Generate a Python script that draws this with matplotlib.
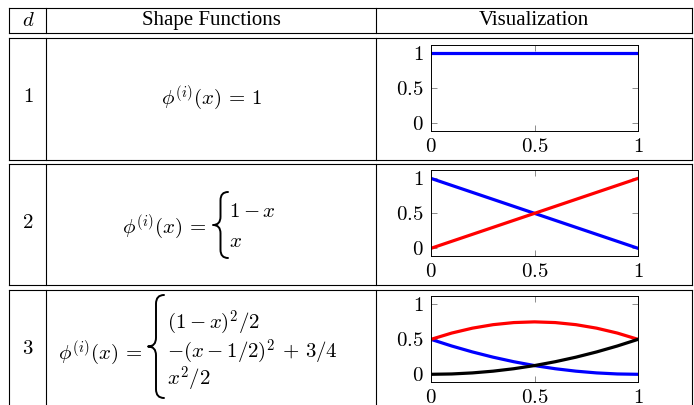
import numpy as np
import matplotlib
matplotlib.use('Agg')
import matplotlib.pyplot as plt
from matplotlib.path import Path
import matplotlib.patches as patches

plt.rcParams['mathtext.fontset'] = 'cm'
plt.rcParams['font.family'] = ['Liberation Serif', 'DejaVu Serif']

W, H = 694, 405  # figure size in pixels

## table text
header = ['$d$', 'Shape Functions', 'Visualization']
degrees = ['$1$', '$2$', '$3$']
lhs = r'$\phi^{(i)}(x)\,=\,$'
row1_formula = r'$\phi^{(i)}(x)\,=\,1$'
row2_cases = [r'$1-x$', r'$x$']
row3_cases = [r'$(1-x)^2/2$', r'$-(x-1/2)^2\,+\,3/4$', r'$x^2/2$']

## plotted shape functions
x_lin = [0.0, 1.0]
d1_phi = [1.0, 1.0]
d2_blue = [1.0, 0.0]
d2_red = [0.0, 1.0]
x_quad = [0.0, 0.1, 0.2, 0.3, 0.4, 0.5, 0.6, 0.7, 0.8, 0.9, 1.0]
d3_blue = [0.5, 0.405, 0.32, 0.245, 0.18, 0.125, 0.08, 0.045, 0.02, 0.005, 0.0]
d3_red = [0.5, 0.59, 0.66, 0.71, 0.74, 0.75, 0.74, 0.71, 0.66, 0.59, 0.5]
d3_black = [0.0, 0.005, 0.02, 0.045, 0.08, 0.125, 0.18, 0.245, 0.32, 0.405, 0.5]

tick_vals = [0, 0.5, 1]
tick_labels = ['$0$', '$0.5$', '$1$']

fig = plt.figure(figsize=(W / 100, H / 100), dpi=100)

# background axes in pixel coordinates for the table rules and text
bg = fig.add_axes([0, 0, 1, 1])
bg.set_xlim(0, W)
bg.set_ylim(H, 0)
bg.axis('off')

col_x = [9.5, 46.5, 376.5, 692.5]
boxes = [(8, 33), (38, 159.5), (163.5, 285), (289.5, 406)]
for top, bottom in boxes:
    bg.plot([col_x[0], col_x[-1]], [top, top], color='black', lw=0.8)
    if bottom < H:
        bg.plot([col_x[0], col_x[-1]], [bottom, bottom], color='black', lw=0.8)
    for cx in col_x:
        bg.plot([cx, cx], [top, bottom], color='black', lw=0.8)

fs = 15
# header
bg.text(28, 21, header[0], fontsize=fs, ha='center', va='center')
bg.text(211.5, 20.5, header[1], fontsize=fs, ha='center', va='center')
bg.text(534, 20.5, header[2], fontsize=fs, ha='center', va='center')

# degree column
for label, yc in zip(degrees, [98, 224, 350]):
    bg.text(28, yc, label, fontsize=fs, ha='center', va='center')

# row 1
bg.text(211.5, 104, row1_formula, fontsize=fs, ha='center', va='baseline')

def draw_brace(ax, xl, xv, xr, yt, yb):
    """draws a left curly brace in pixel coordinates"""
    ym = 0.5 * (yt + yb)
    h = (xr - xl) * 0.55
    verts = [(xr, yt), (xv, yt), (xv, yt + h),
             (xv, ym - h), (xv, ym), (xl, ym),
             (xv, ym), (xv, ym + h),
             (xv, yb - h), (xv, yb), (xr, yb)]
    codes = [Path.MOVETO, Path.CURVE3, Path.CURVE3,
             Path.LINETO, Path.CURVE3, Path.CURVE3,
             Path.CURVE3, Path.CURVE3,
             Path.LINETO, Path.CURVE3, Path.CURVE3]
    ax.add_patch(patches.PathPatch(Path(verts, codes), fill=False, lw=1.4,
                                   capstyle='round', joinstyle='round'))

# row 2
bg.text(206, 233, lhs, fontsize=fs, ha='right', va='baseline')
draw_brace(bg, 213, 220.5, 228, 192, 258)
bg.text(229, 217, row2_cases[0], fontsize=fs, ha='left', va='baseline')
bg.text(229, 247, row2_cases[1], fontsize=fs, ha='left', va='baseline')

# row 3
bg.text(142, 359, lhs, fontsize=fs, ha='right', va='baseline')
draw_brace(bg, 148, 156, 164, 295, 398)
for label, yb in zip(row3_cases, [329, 358, 386]):
    bg.text(167, yb, label, fontsize=fs, ha='left', va='baseline')

## visualization axes
ax_left, ax_w, ax_h = 431, 207, 86
ax_tops = [45, 170, 296]
curves = [
    [(x_lin, d1_phi, 'blue')],
    [(x_lin, d2_blue, 'blue'), (x_lin, d2_red, 'red')],
    [(x_quad, d3_blue, 'blue'), (x_quad, d3_red, 'red'), (x_quad, d3_black, 'black')],
]
for top, row in zip(ax_tops, curves):
    ax = fig.add_axes([ax_left / W, 1 - (top + ax_h) / H, ax_w / W, ax_h / H])
    for xs, ys, c in row:
        ax.plot(xs, ys, color=c, lw=2.3)
    ax.set_xlim(0, 1)
    ax.set_ylim(-0.11, 1.12)
    ax.set_xticks(tick_vals)
    ax.set_xticklabels(tick_labels)
    ax.set_yticks(tick_vals)
    ax.set_yticklabels(tick_labels)
    ax.tick_params(direction='in', length=4.5, width=0.7, color='0.55',
                   top=True, right=True, labelsize=fs, pad=5)
    for sp in ax.spines.values():
        sp.set_linewidth(0.7)

fig.savefig('out.png', dpi=100)
